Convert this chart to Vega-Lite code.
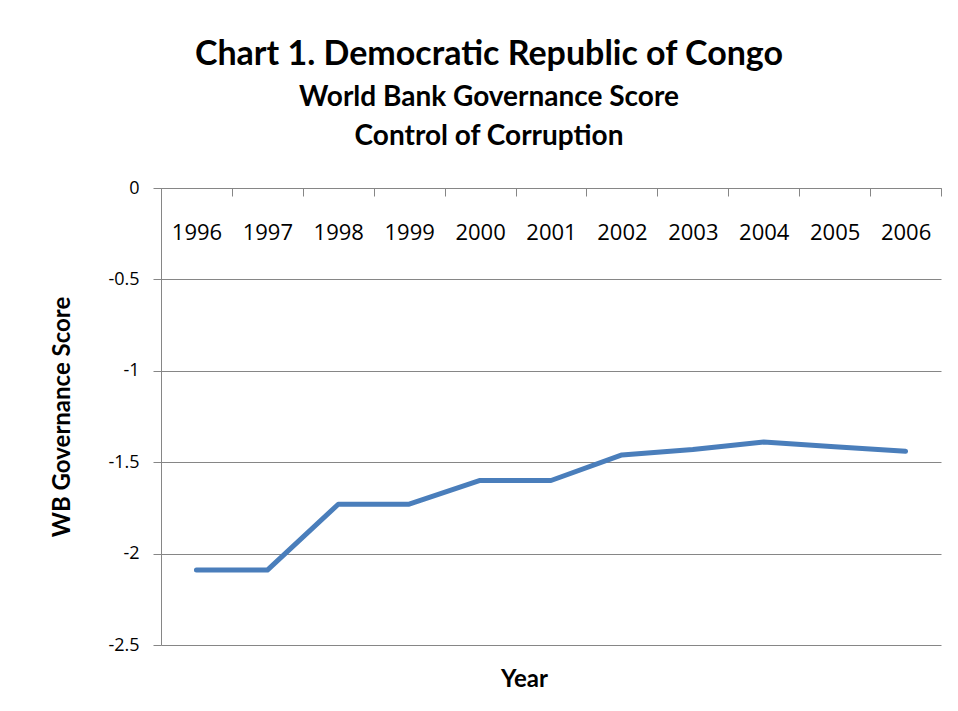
{
  "$schema": "https://vega.github.io/schema/vega-lite/v6.json",
  "width": 780,
  "height": 457,
  "autosize": {"type": "none"},
  "padding": {"left": 161, "top": 188, "right": 17, "bottom": 66},
  "background": "white",
  "config": {"view": {"stroke": null}},
  "title": {
    "text": "Chart 1. Democratic Republic of Congo",
    "subtitle": ["World Bank Governance Score", "Control of Corruption"],
    "anchor": "middle",
    "frame": "group",
    "dx": -62,
    "offset": 28,
    "font": "Lato",
    "fontSize": 34,
    "fontWeight": "bold",
    "color": "#000000",
    "subtitleFont": "Lato",
    "subtitleFontSize": 28,
    "subtitleFontWeight": "bold",
    "subtitleColor": "#000000",
    "subtitleLineHeight": 39,
    "subtitlePadding": 12
  },
  "data": {
    "values": [
      {"year": "1996", "score": -2.09},
      {"year": "1997", "score": -2.09},
      {"year": "1998", "score": -1.73},
      {"year": "1999", "score": -1.73},
      {"year": "2000", "score": -1.6},
      {"year": "2001", "score": -1.6},
      {"year": "2002", "score": -1.46},
      {"year": "2003", "score": -1.43},
      {"year": "2004", "score": -1.39},
      {"year": "2005", "score": -1.415},
      {"year": "2006", "score": -1.44}
    ]
  },
  "mark": {"type": "line", "color": "#4A7EBB", "strokeWidth": 5, "strokeCap": "round", "strokeJoin": "round"},
  "encoding": {
    "x": {
      "field": "year",
      "type": "ordinal",
      "bandPosition": 0.5,
      "scale": {"type": "band", "paddingInner": 0, "paddingOuter": 0},
      "axis": {
        "orient": "bottom",
        "offset": -457,
        "title": "Year",
        "titleFont": "Lato",
        "titleFontSize": 24,
        "titleFontWeight": "bold",
        "titleColor": "#000000",
        "titleBaseline": "middle",
        "titleAlign": "center",
        "titleX": 363,
        "titleY": 491,
        "labelFont": "Open Sans",
        "labelFontSize": 22,
        "labelColor": "#000000",
        "labelAngle": 0,
        "labelPadding": 26,
        "tickBand": "extent",
        "tickSize": 8,
        "tickColor": "#868686",
        "domainColor": "#868686",
        "grid": false
      }
    },
    "y": {
      "field": "score",
      "type": "quantitative",
      "scale": {"domain": [-2.5, 0], "nice": false, "zero": false},
      "axis": {
        "values": [-2.5, -2, -1.5, -1, -0.5, 0],
        "labelExpr": "datum.value == 0 ? '0' : '-' + format(-datum.value, '~g')",
        "title": "WB Governance Score",
        "titleFont": "Lato",
        "titleFontSize": 24,
        "titleFontWeight": "bold",
        "titleColor": "#000000",
        "titlePadding": 33,
        "labelFont": "Open Sans",
        "labelFontSize": 18,
        "labelColor": "#000000",
        "labelPadding": 14,
        "tickSize": 8,
        "tickColor": "#868686",
        "domainColor": "#868686",
        "grid": true,
        "gridColor": "#868686"
      }
    }
  }
}
